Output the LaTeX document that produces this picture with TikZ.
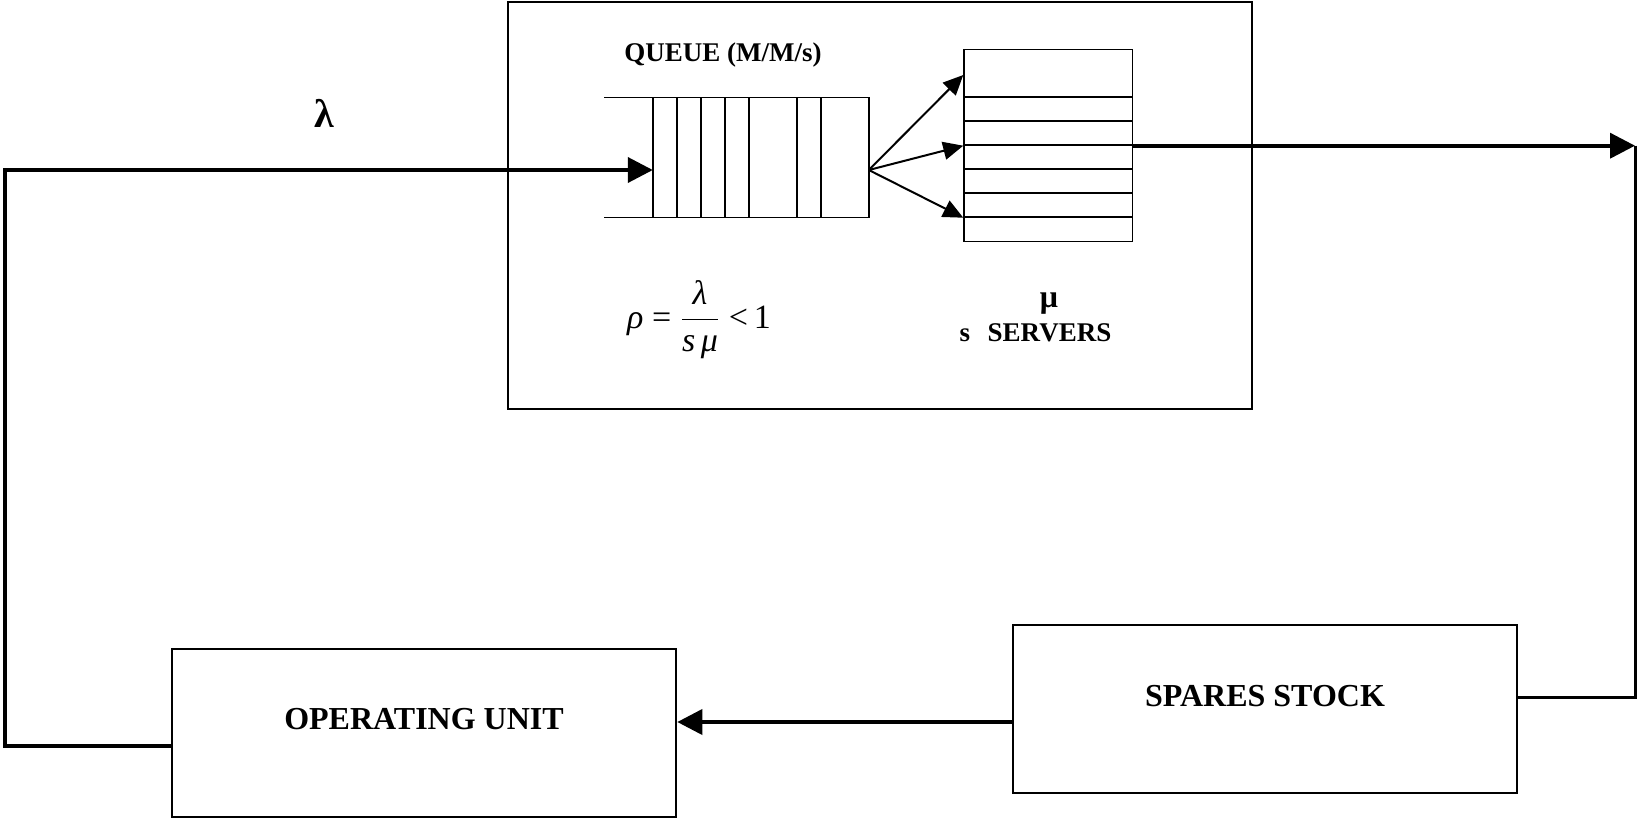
\documentclass[tikz,border=0pt]{standalone}
\usepackage{amsmath}
\usepackage{fontspec}
\setmainfont{Liberation Serif}
\usetikzlibrary{arrows.meta, positioning}

\begin{document}
\begin{tikzpicture}[x=1pt, y=-1pt,
  unitbox/.style={draw, line width=1.3pt, minimum width=252pt, minimum height=84pt, inner sep=0pt},
  boxtext/.style={font=\bfseries\fontsize{16}{19}\selectfont, inner sep=0pt},
  smalltext/.style={font=\bfseries\fontsize{13.5}{16}\selectfont, inner sep=0pt},
  flow/.style={line width=1.9pt, -{Triangle[length=12.5pt, width=12.5pt]}},
  link/.style={line width=1.5pt},
  qline/.style={line width=0.75pt},
  fork/.style={line width=1pt, -{Triangle[length=10pt, width=9pt]}}]
\useasboundingbox (0,0) rectangle (818.5,410);

\node[draw, line width=1.25pt, minimum width=372pt, minimum height=203.5pt] (queuebox) at (440,102.75) {};
\node[unitbox] (opunit) at (212,366.5) {};
\node[unitbox] (spares) at (632.5,354.5) {};
\node[boxtext] (optext) at ([yshift=7pt]opunit.center) {OPERATING UNIT};
\node[boxtext] (sparestext) at ([yshift=6.5pt]spares.center) {SPARES STOCK};

\node[smalltext] (qtitle) at (361.5,27.5) {QUEUE (M/M/s)};
\draw[qline] (302,48.85) -- (434.4,48.85) -- (434.4,108.85) -- (302,108.85);
\foreach \i in {0,1,2,3,4,6,7}
  \draw[qline] (326.4+12*\i,48.85) -- ++(0,60);
\coordinate (qin) at (326.4,85);
\coordinate (split) at (434.4,85);

\node[draw, line width=0.75pt, minimum width=84.3pt, minimum height=96pt, inner sep=0pt] (servers) at (524.15,72.85) {};
\foreach \j in {2,...,7}
  \draw[qline] ([yshift=-\j*12pt]servers.north west) -- ([yshift=-\j*12pt]servers.north east);
\draw[fork] (split) -- ([yshift=35.35pt]servers.west);
\draw[fork] (split) -- (servers.west);
\draw[fork] (split) -- ([yshift=-36pt]servers.west);

\node[font=\fontsize{17}{20}\selectfont, inner sep=0pt] (rho) at (349.5,160)
  {\textit{ρ} = $\dfrac{\text{\itshape λ}}{\text{\itshape s\,μ}}$ <\,1};
\node[font=\bfseries\fontsize{16}{19}\selectfont, inner sep=0pt] (mu) at (524.5,152) {μ};
\node[smalltext] (slabel) at (517.75,166.5) {s\hspace{0.65em}SERVERS};

\node[font=\bfseries\fontsize{20}{24}\selectfont, inner sep=0pt] (lambda) at (162,56.5) {λ};

\coordinate (incorner) at (2.5,85);
\coordinate (outcorner) at (817.5,72.85);
\draw[flow] ([yshift=-6.3pt]opunit.west) -| (incorner) -- (qin);
\draw[flow] (servers.east) -- (outcorner);
\draw[link] (outcorner) |- ([yshift=5.7pt]spares.east);
\draw[flow] ([yshift=-6.5pt]spares.west) -- ([yshift=5.5pt]opunit.east);
\end{tikzpicture}
\end{document}
